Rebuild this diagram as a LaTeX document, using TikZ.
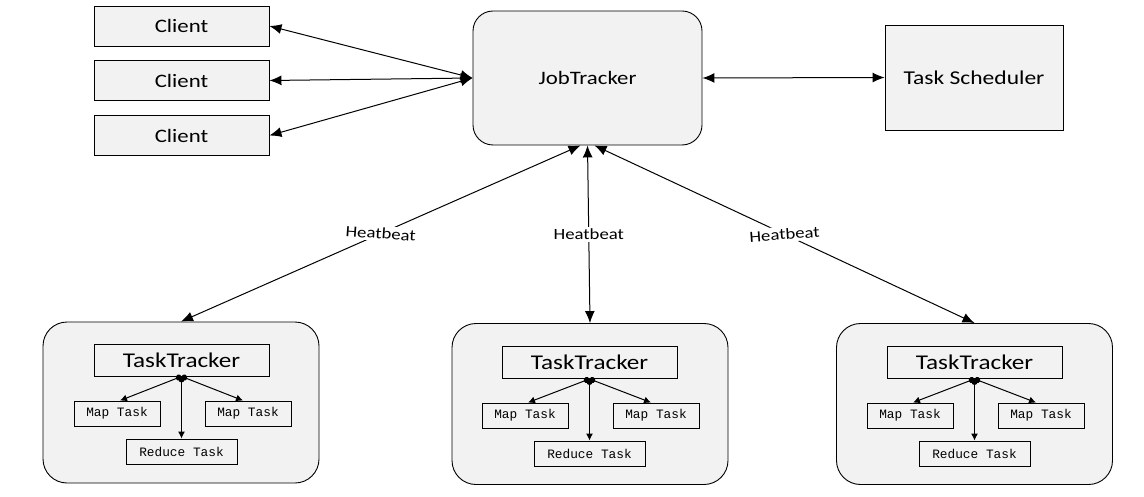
\documentclass[tikz,border=0pt]{standalone}
\usepackage{fontspec}
\setmainfont{Carlito}[FakeStretch=1.2]
\newfontfamily\taskfont{Liberation Mono}
\usetikzlibrary{arrows.meta}
\definecolor{boxgray}{HTML}{F2F2F2}
\tikzset{
	box/.style={draw, fill=boxgray, line width=0.45pt, inner sep=0pt},
	group/.style={box, rounded corners=12pt, minimum width=138pt, minimum height=80.5pt},
	tracker/.style={box, minimum width=87.5pt, minimum height=16pt, font=\fontsize{10.5}{12}\selectfont},
	maptask/.style={box, minimum width=43pt, minimum height=12.5pt, font=\taskfont\fontsize{6.4}{7}\selectfont},
	redtask/.style={box, minimum width=55.5pt, minimum height=12.5pt, font=\taskfont\fontsize{6.4}{7}\selectfont},
	bigarrow/.style={line width=0.5pt, {Latex[length=6pt,width=5pt]}-{Latex[length=6pt,width=5pt]}},
	smallarrow/.style={line width=0.5pt, {Circle[length=3pt]}-{Latex[length=3.5pt,width=3.5pt]}},
	beat/.style={fill=white, inner sep=1pt, font=\fontsize{7.8}{9}\selectfont}
}
\begin{document}
\begin{tikzpicture}[x=0.5pt,y=-0.5pt]
			\useasboundingbox (0,0) rectangle (1144,497);
			% top row
			\node[box, minimum width=87.5pt, minimum height=20pt, font=\fontsize{9.5}{11}\selectfont] (c1) at (181.5,26) {Client};
			\node[box, minimum width=87.5pt, minimum height=20pt, font=\fontsize{9.5}{11}\selectfont] (c2) at (181.5,80.5) {Client};
			\node[box, minimum width=87.5pt, minimum height=20pt, font=\fontsize{9.5}{11}\selectfont] (c3) at (181.5,135.5) {Client};
			\node[box, rounded corners=10pt, minimum width=114.5pt, minimum height=67pt, font=\fontsize{9.5}{11}\selectfont] (jt) at (587.5,78) {JobTracker};
			\node[box, minimum width=89pt, minimum height=52.5pt, font=\fontsize{9.8}{11}\selectfont] (ts) at (974,77.5) {Task Scheduler};
			\draw[bigarrow] (c1.east) -- (jt.west);
			\draw[bigarrow] (c2.east) -- (jt.west);
			\draw[bigarrow] (c3.east) -- (jt.west);
			\draw[bigarrow] (jt.east) -- (ts.west);
			% left group
			\node[group] (g1) at (181,402.5) {};
			\node[tracker] (tt1) at (181.5,360) {TaskTracker};
			\node[maptask] (m1a) at (117,413.5) {Map Task};
			\node[maptask] (m1b) at (248,413.5) {Map Task};
			\node[redtask] (r1) at (181.5,451.5) {Reduce Task};
			\draw[smallarrow] (tt1.south) -- ([xshift=1.5pt]m1a.north);
			\draw[smallarrow] (tt1.south) -- ([xshift=-2.5pt]m1b.north);
			\draw[smallarrow] (tt1.south) -- (r1.north);
			% middle group
			\node[group] (g2) at (590,404) {};
			\node[tracker] (tt2) at (589.5,362.5) {TaskTracker};
			\node[maptask] (m2a) at (525,415.5) {Map Task};
			\node[maptask] (m2b) at (656,415.5) {Map Task};
			\node[redtask] (r2) at (589.5,453.5) {Reduce Task};
			\draw[smallarrow] (tt2.south) -- ([xshift=1.5pt]m2a.north);
			\draw[smallarrow] (tt2.south) -- ([xshift=-2.5pt]m2b.north);
			\draw[smallarrow] (tt2.south) -- (r2.north);
			% right group
			\node[group] (g3) at (974.5,404) {};
			\node[tracker] (tt3) at (974.5,362.5) {TaskTracker};
			\node[maptask] (m3a) at (910,415.5) {Map Task};
			\node[maptask] (m3b) at (1041,415.5) {Map Task};
			\node[redtask] (r3) at (974.5,453.5) {Reduce Task};
			\draw[smallarrow] (tt3.south) -- ([xshift=1.5pt]m3a.north);
			\draw[smallarrow] (tt3.south) -- ([xshift=-2.5pt]m3b.north);
			\draw[smallarrow] (tt3.south) -- (r3.north);
			% heatbeats
			\draw[bigarrow] ([xshift=-3.5pt]jt.south) -- node[beat, rotate=-4] {Heatbeat} (g1.north);
			\draw[bigarrow] (jt.south) -- node[beat] {Heatbeat} (g2.north);
			\draw[bigarrow] ([xshift=3.5pt]jt.south) -- node[beat, rotate=4] {Heatbeat} (g3.north);
		\end{tikzpicture}
\end{document}
